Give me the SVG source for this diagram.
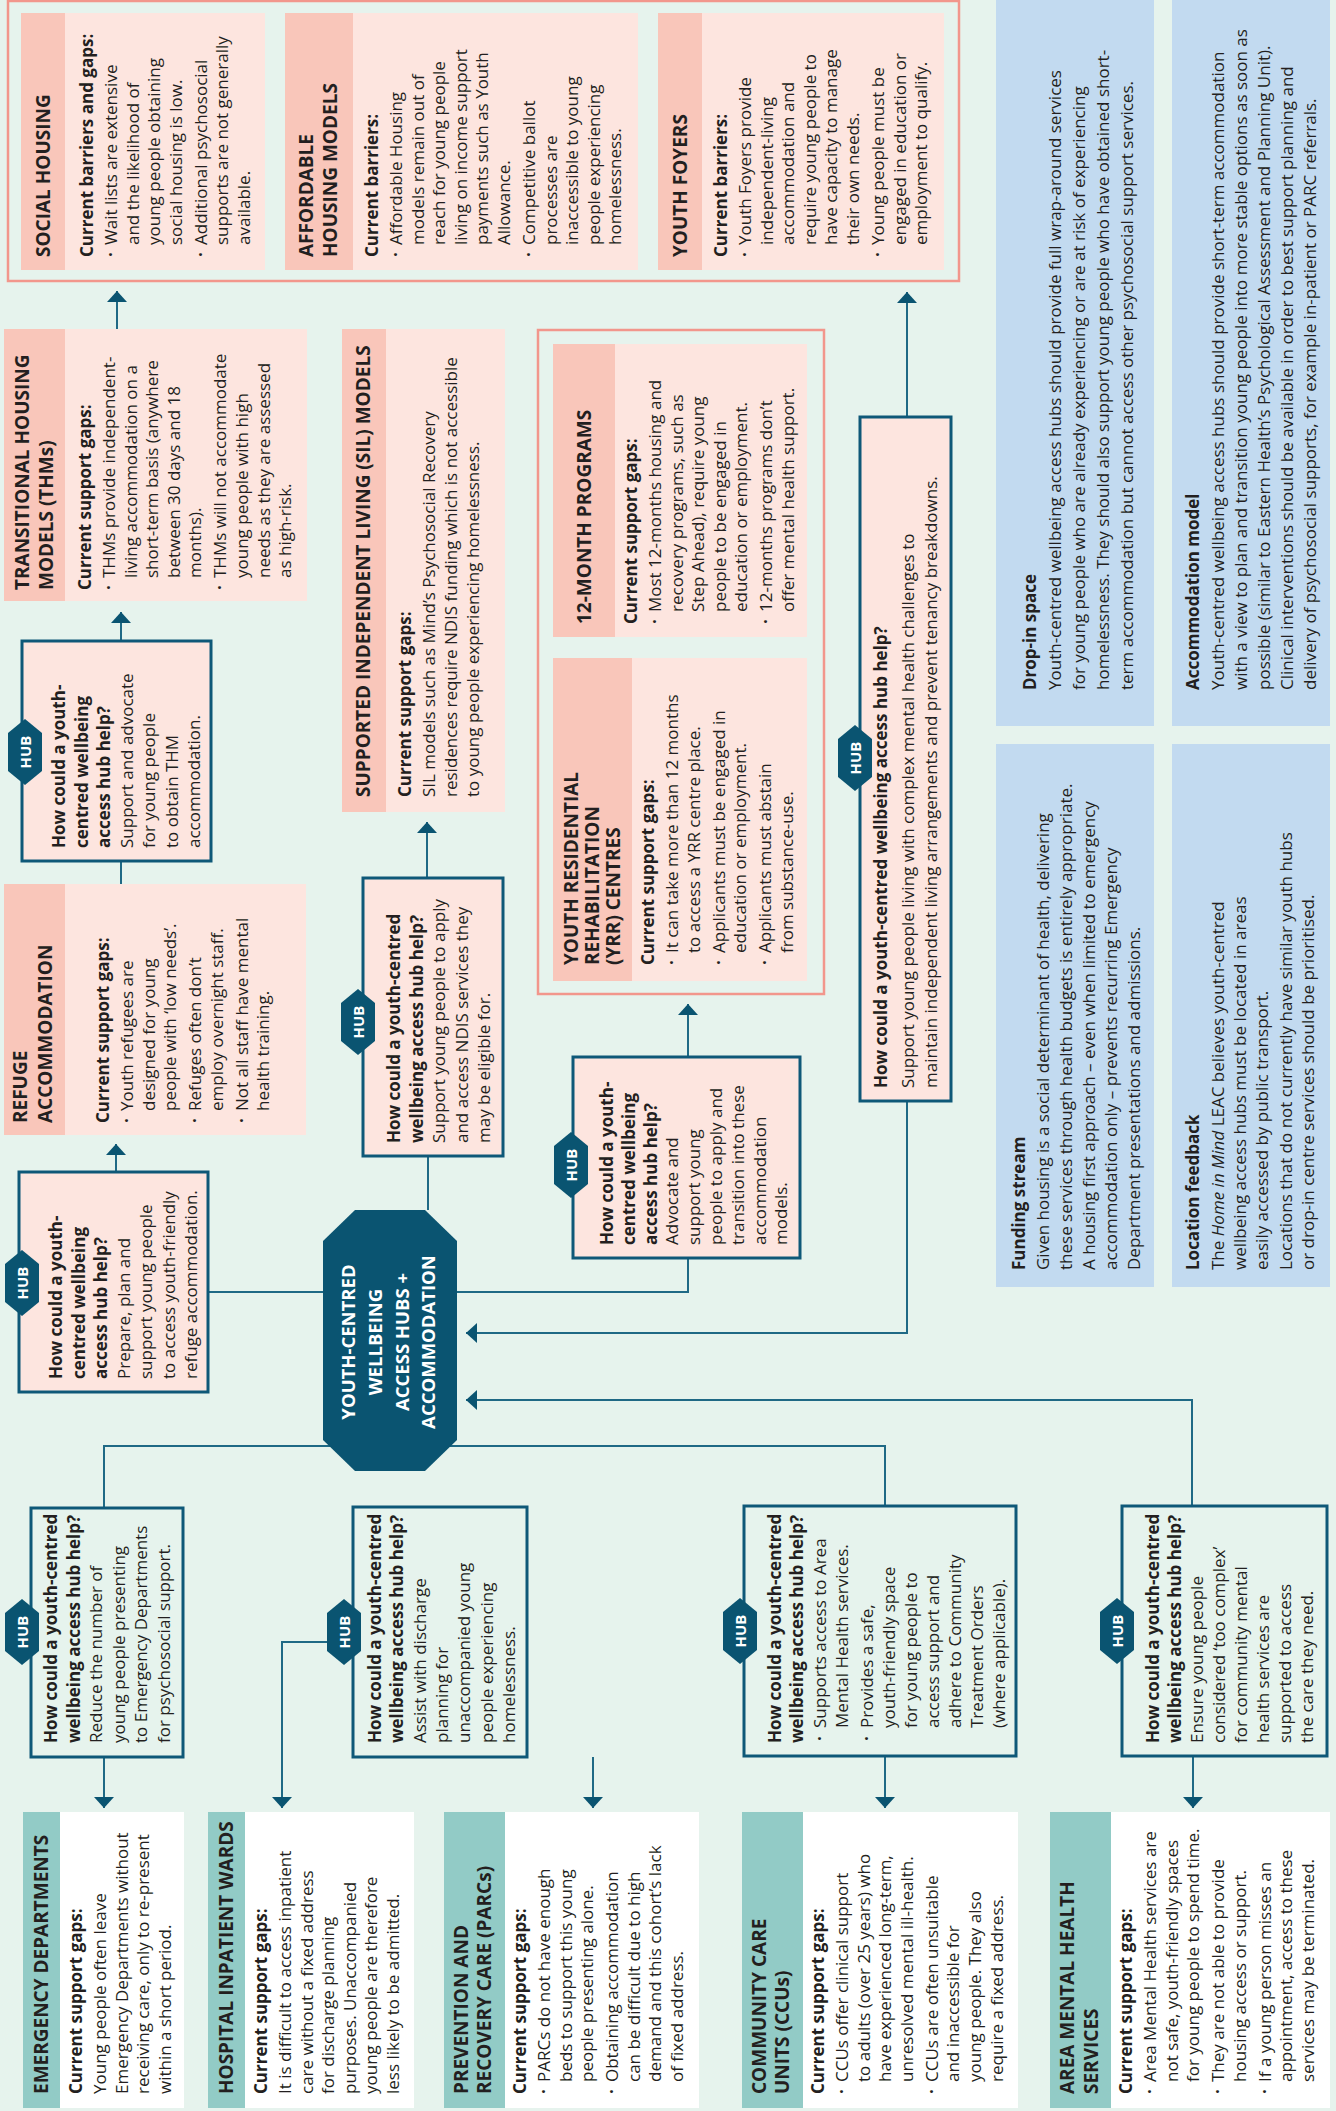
<svg xmlns="http://www.w3.org/2000/svg" width="1336" height="2111" viewBox="0 0 1336 2111">
<defs>
<style>
.bg{fill:#E6F3ED}
.frame{fill:none;stroke:#F2968C;stroke-width:2.5}
.card{fill:#FDE5DF}
.cardh{fill:#F9C6BA}
.hubp{fill:#FDE5DF;stroke:#0E5878;stroke-width:3}
.hubm{fill:#E6F3ED;stroke:#0E5878;stroke-width:3}
.hex{fill:#0A5471}
.oct{fill:#0A5471}
.blue{fill:#C2DAF0}
.wcard{fill:#FFFFFF}
.tcardh{fill:#92CBC6}
.ln{fill:none;stroke:#1F6985;stroke-width:2}
.t{font-family:'Open Sans','Noto Sans','DejaVu Sans',sans-serif;font-size:17px;fill:#231F20}
.b{font-weight:700}
.h{font-weight:700;font-size:19px}
.w{fill:#FFFFFF;font-weight:700;font-size:18.5px}
.hub{font-family:'Open Sans','Noto Sans','DejaVu Sans',sans-serif;font-size:15px;font-weight:700;fill:#FFFFFF;text-anchor:middle}
</style>
<marker id="arr" viewBox="0 0 11 20" refX="11" refY="10" markerWidth="11" markerHeight="20" markerUnits="userSpaceOnUse" orient="auto">
<path d="M0,0 L11,10 L0,20 Z" fill="#0A5471"/>
</marker>
</defs>

<rect class="bg" x="0" y="0" width="1336" height="2111"/>

<g id="connectors">
<path class="ln" d="M117,329 V291" marker-end="url(#arr)"/>
<path class="ln" d="M121,641 V612" marker-end="url(#arr)"/>
<path class="ln" d="M121,861 V884"/>
<path class="ln" d="M116,1172 V1144" marker-end="url(#arr)"/>
<path class="ln" d="M208,1292 H323"/>
<path class="ln" d="M427,878 V822" marker-end="url(#arr)"/>
<path class="ln" d="M428,1156 V1210"/>
<path class="ln" d="M688,1057 V1004" marker-end="url(#arr)"/>
<path class="ln" d="M457,1292 H688 V1258"/>
<path class="ln" d="M907,417 V292" marker-end="url(#arr)"/>
<path class="ln" d="M907,1101 V1333 H466" marker-end="url(#arr)"/>
<path class="ln" d="M1192,1506 V1400 H466" marker-end="url(#arr)"/>
<path class="ln" d="M104,1508 V1446 H885 V1506"/>
<path class="ln" d="M104,1757 V1808" marker-end="url(#arr)"/>
<path class="ln" d="M353,1642 H282 V1808" marker-end="url(#arr)"/>
<path class="ln" d="M593,1757 V1808" marker-end="url(#arr)"/>
<path class="ln" d="M885,1756 V1808" marker-end="url(#arr)"/>
<path class="ln" d="M1193,1756 V1808" marker-end="url(#arr)"/>
</g>

<g id="frame-housing">
<rect class="frame" x="8" y="1" width="951" height="280"/>
</g>
<g id="frame-programs">
<rect class="frame" x="538" y="330" width="286" height="664"/>
</g>

<g id="social-housing">
<rect class="card" x="21" y="13" width="244" height="257"/>
<rect class="cardh" x="21" y="13" width="44" height="257"/>
<g transform="matrix(0,-1,1,0,0,2111)">
<text class="t h" x="1854" y="50">SOCIAL HOUSING</text>
<text class="t"><tspan class="b" x="1854" y="93">Current barriers and gaps:</tspan><tspan class="b" x="1854" y="117">·</tspan><tspan x="1866" y="117">Wait lists are extensive</tspan><tspan x="1866" y="138.6">and the likelihood of</tspan><tspan x="1866" y="160.2">young people obtaining</tspan><tspan x="1866" y="181.8">social housing is low.</tspan><tspan class="b" x="1854" y="206.8">·</tspan><tspan x="1866" y="206.8">Additional psychosocial</tspan><tspan x="1866" y="228.4">supports are not generally</tspan><tspan x="1866" y="250">available.</tspan></text>
</g>
</g>

<g id="affordable-housing">
<rect class="card" x="285" y="13" width="353" height="257"/>
<rect class="cardh" x="285" y="13" width="68" height="257"/>
<g transform="matrix(0,-1,1,0,0,2111)">
<text class="t h"><tspan x="1854" y="313">AFFORDABLE</tspan><tspan x="1854" y="337">HOUSING MODELS</tspan></text>
<text class="t"><tspan class="b" x="1854" y="378">Current barriers:</tspan><tspan class="b" x="1854" y="402">·</tspan><tspan x="1866" y="402">Affordable Housing</tspan><tspan x="1866" y="423.6">models remain out of</tspan><tspan x="1866" y="445.2">reach for young people</tspan><tspan x="1866" y="466.8">living on income support</tspan><tspan x="1866" y="488.4">payments such as Youth</tspan><tspan x="1866" y="510">Allowance.</tspan><tspan class="b" x="1854" y="535">·</tspan><tspan x="1866" y="535">Competitive ballot</tspan><tspan x="1866" y="556.6">processes are</tspan><tspan x="1866" y="578.2">inaccessible to young</tspan><tspan x="1866" y="599.8">people experiencing</tspan><tspan x="1866" y="621.4">homelessness.</tspan></text>
</g>
</g>

<g id="youth-foyers">
<rect class="card" x="658" y="13" width="286" height="257"/>
<rect class="cardh" x="658" y="13" width="44" height="257"/>
<g transform="matrix(0,-1,1,0,0,2111)">
<text class="t h" x="1854" y="686.5">YOUTH FOYERS</text>
<text class="t"><tspan class="b" x="1854" y="727">Current barriers:</tspan><tspan class="b" x="1854" y="751">·</tspan><tspan x="1866" y="751">Youth Foyers provide</tspan><tspan x="1866" y="772.6">independent-living</tspan><tspan x="1866" y="794.2">accommodation and</tspan><tspan x="1866" y="815.8">require young people to</tspan><tspan x="1866" y="837.4">have capacity to manage</tspan><tspan x="1866" y="859">their own needs.</tspan><tspan class="b" x="1854" y="884">·</tspan><tspan x="1866" y="884">Young people must be</tspan><tspan x="1866" y="905.6">engaged in education or</tspan><tspan x="1866" y="927.2">employment to qualify.</tspan></text>
</g>
</g>

<g id="thm">
<rect class="card" x="4" y="329" width="303" height="272"/>
<rect class="cardh" x="4" y="329" width="61" height="272"/>
<g transform="matrix(0,-1,1,0,0,2111)">
<text class="t h"><tspan x="1521" y="29">TRANSITIONAL HOUSING</tspan><tspan x="1521" y="53">MODELS (THMs)</tspan></text>
<text class="t"><tspan class="b" x="1521" y="91">Current support gaps:</tspan><tspan class="b" x="1521" y="115">·</tspan><tspan x="1533" y="115">THMs provide independent-</tspan><tspan x="1533" y="136.6">living accommodation on a</tspan><tspan x="1533" y="158.2">short-term basis (anywhere</tspan><tspan x="1533" y="179.8">between 30 days and 18</tspan><tspan x="1533" y="201.4">months).</tspan><tspan class="b" x="1521" y="226.4">·</tspan><tspan x="1533" y="226.4">THMs will not accommodate</tspan><tspan x="1533" y="248">young people with high</tspan><tspan x="1533" y="269.6">needs as they are assessed</tspan><tspan x="1533" y="291.2">as high-risk.</tspan></text>
</g>
</g>

<g id="sil">
<rect class="card" x="342" y="329" width="163" height="483"/>
<rect class="cardh" x="342" y="329" width="44" height="483"/>
<g transform="matrix(0,-1,1,0,0,2111)">
<text class="t h" x="1314" y="370">SUPPORTED INDEPENDENT LIVING (SIL) MODELS</text>
<text class="t"><tspan class="b" x="1314" y="411">Current support gaps:</tspan><tspan x="1314" y="435">SIL models such as Mind’s Psychosocial Recovery</tspan><tspan x="1314" y="457">residences require NDIS funding which is not accessible</tspan><tspan x="1314" y="479">to young people experiencing homelessness.</tspan></text>
</g>
</g>

<g id="refuge">
<rect class="card" x="4" y="884" width="302" height="251"/>
<rect class="cardh" x="4" y="884" width="61" height="251"/>
<g transform="matrix(0,-1,1,0,0,2111)">
<text class="t h"><tspan x="988" y="27">REFUGE</tspan><tspan x="988" y="52">ACCOMMODATION</tspan></text>
<text class="t"><tspan class="b" x="988" y="109">Current support gaps:</tspan><tspan class="b" x="988" y="133">·</tspan><tspan x="1000" y="133">Youth refugees are</tspan><tspan x="1000" y="154.6">designed for young</tspan><tspan x="1000" y="176.2">people with ‘low needs’.</tspan><tspan class="b" x="988" y="201.2">·</tspan><tspan x="1000" y="201.2">Refuges often don’t</tspan><tspan x="1000" y="222.8">employ overnight staff.</tspan><tspan class="b" x="988" y="247.8">·</tspan><tspan x="1000" y="247.8">Not all staff have mental</tspan><tspan x="1000" y="269.4">health training.</tspan></text>
</g>
</g>

<g id="twelve-month">
<rect class="card" x="553" y="344" width="254" height="293"/>
<rect class="cardh" x="553" y="344" width="62" height="293"/>
<g transform="matrix(0,-1,1,0,0,2111)">
<text class="t h" x="1487" y="590.5">12-MONTH PROGRAMS</text>
<text class="t"><tspan class="b" x="1487" y="637">Current support gaps:</tspan><tspan class="b" x="1487" y="661">·</tspan><tspan x="1499" y="661">Most 12-months housing and</tspan><tspan x="1499" y="682.6">recovery programs, such as</tspan><tspan x="1499" y="704.2">Step Ahead), require young</tspan><tspan x="1499" y="725.8">people to be engaged in</tspan><tspan x="1499" y="747.4">education or employment.</tspan><tspan class="b" x="1487" y="772.4">·</tspan><tspan x="1499" y="772.4">12-months programs don’t</tspan><tspan x="1499" y="794">offer mental health support.</tspan></text>
</g>
</g>

<g id="yrr">
<rect class="card" x="553" y="658" width="254" height="323"/>
<rect class="cardh" x="553" y="658" width="79" height="323"/>
<g transform="matrix(0,-1,1,0,0,2111)">
<text class="t h"><tspan x="1146" y="578">YOUTH RESIDENTIAL</tspan><tspan x="1146" y="599">REHABILITATION</tspan><tspan x="1146" y="620">(YRR) CENTRES</tspan></text>
<text class="t"><tspan class="b" x="1146" y="654">Current support gaps:</tspan><tspan class="b" x="1146" y="678">·</tspan><tspan x="1158" y="678">It can take more than 12 months</tspan><tspan x="1158" y="699.6">to access a YRR centre place.</tspan><tspan class="b" x="1146" y="724.6">·</tspan><tspan x="1158" y="724.6">Applicants must be engaged in</tspan><tspan x="1158" y="746.2">education or employment.</tspan><tspan class="b" x="1146" y="771.2">·</tspan><tspan x="1158" y="771.2">Applicants must abstain</tspan><tspan x="1158" y="792.8">from substance-use.</tspan></text>
</g>
</g>

<g id="drop-in">
<rect class="blue" x="996" y="0" width="158" height="726"/>
<g transform="matrix(0,-1,1,0,0,2111)">
<text class="t"><tspan class="b" x="1421" y="1036">Drop-in space</tspan><tspan x="1421" y="1061">Youth-centred wellbeing access hubs should provide full wrap-around services</tspan><tspan x="1421" y="1085">for young people who are already experiencing or are at risk of experiencing</tspan><tspan x="1421" y="1109">homelessness. They should also support young people who have obtained short-</tspan><tspan x="1421" y="1133">term accommodation but cannot access other psychosocial support services.</tspan></text>
</g>
</g>

<g id="accommodation-model">
<rect class="blue" x="1172" y="0" width="158" height="726"/>
<g transform="matrix(0,-1,1,0,0,2111)">
<text class="t"><tspan class="b" x="1421" y="1199">Accommodation model</tspan><tspan x="1421" y="1224">Youth-centred wellbeing access hubs should provide short-term accommodation</tspan><tspan x="1421" y="1247">with a view to plan and transition young people into more stable options as soon as</tspan><tspan x="1421" y="1270">possible (similar to Eastern Health’s Psychological Assessment and Planning Unit).</tspan><tspan x="1421" y="1293">Clinical interventions should be available in order to best support planning and</tspan><tspan x="1421" y="1316">delivery of psychosocial supports, for example in-patient or PARC referrals.</tspan></text>
</g>
</g>

<g id="funding-stream">
<rect class="blue" x="996" y="744" width="158" height="543"/>
<g transform="matrix(0,-1,1,0,0,2111)">
<text class="t"><tspan class="b" x="841" y="1025">Funding stream</tspan><tspan x="841" y="1049">Given housing is a social determinant of health, delivering</tspan><tspan x="841" y="1071.5">these services through health budgets is entirely appropriate.</tspan><tspan x="841" y="1094.5">A housing first approach – even when limited to emergency</tspan><tspan x="841" y="1117">accommodation only – prevents recurring Emergency</tspan><tspan x="841" y="1139.5">Department presentations and admissions.</tspan></text>
</g>
</g>

<g id="location-feedback">
<rect class="blue" x="1172" y="744" width="158" height="543"/>
<g transform="matrix(0,-1,1,0,0,2111)">
<text class="t"><tspan class="b" x="841" y="1199">Location feedback</tspan><tspan x="841" y="1224">The <tspan font-style="italic">Home in Mind</tspan> LEAC believes youth-centred</tspan><tspan x="841" y="1246">wellbeing access hubs must be located in areas</tspan><tspan x="841" y="1268">easily accessed by public transport.</tspan><tspan x="841" y="1292">Locations that do not currently have similar youth hubs</tspan><tspan x="841" y="1314">or drop-in centre services should be prioritised.</tspan></text>
</g>
</g>

<g id="hub-thm">
<rect class="hubp" x="22" y="641" width="189" height="220"/>
<polygon class="hex" points="25,719 42,733 42,771 25,785 8,771 8,733"/>
<g transform="matrix(0,-1,1,0,0,2111)">
<text class="hub" x="1359" y="30.5">HUB</text>
<text class="t"><tspan class="b" x="1263" y="65">How could a youth-</tspan><tspan class="b" x="1263" y="87.5">centred wellbeing</tspan><tspan class="b" x="1263" y="110">access hub help?</tspan><tspan x="1263" y="132.5">Support and advocate</tspan><tspan x="1263" y="155">for young people</tspan><tspan x="1263" y="177.5">to obtain THM</tspan><tspan x="1263" y="200">accommodation.</tspan></text>
</g>
</g>

<g id="hub-refuge">
<rect class="hubp" x="19" y="1172" width="189" height="220"/>
<polygon class="hex" points="22,1250 39,1264 39,1302 22,1316 5,1302 5,1264"/>
<g transform="matrix(0,-1,1,0,0,2111)">
<text class="hub" x="828" y="27.5">HUB</text>
<text class="t"><tspan class="b" x="732" y="62">How could a youth-</tspan><tspan class="b" x="732" y="84.5">centred wellbeing</tspan><tspan class="b" x="732" y="107">access hub help?</tspan><tspan x="732" y="129.5">Prepare, plan and</tspan><tspan x="732" y="152">support young people</tspan><tspan x="732" y="174.5">to access youth-friendly</tspan><tspan x="732" y="197">refuge accommodation.</tspan></text>
</g>
</g>

<g id="hub-sil">
<rect class="hubp" x="363" y="878" width="140" height="278"/>
<polygon class="hex" points="358,989 375,1003 375,1041 358,1055 341,1041 341,1003"/>
<g transform="matrix(0,-1,1,0,0,2111)">
<text class="hub" x="1089" y="363.5">HUB</text>
<text class="t"><tspan class="b" x="968" y="400">How could a youth-centred</tspan><tspan class="b" x="968" y="422.5">wellbeing access hub help?</tspan><tspan x="968" y="445">Support young people to apply</tspan><tspan x="968" y="467.5">and access NDIS services they</tspan><tspan x="968" y="490">may be eligible for.</tspan></text>
</g>
</g>

<g id="hub-yrr">
<rect class="hubp" x="573" y="1057" width="227" height="201"/>
<polygon class="hex" points="571,1132 588,1146 588,1184 571,1198 554,1184 554,1146"/>
<g transform="matrix(0,-1,1,0,0,2111)">
<text class="hub" x="946" y="576.5">HUB</text>
<text class="t"><tspan class="b" x="866" y="613">How could a youth-</tspan><tspan class="b" x="866" y="634.8">centred wellbeing</tspan><tspan class="b" x="866" y="656.6">access hub help?</tspan><tspan x="866" y="678.4">Advocate and</tspan><tspan x="866" y="700.2">support young</tspan><tspan x="866" y="722">people to apply and</tspan><tspan x="866" y="743.8">transition into these</tspan><tspan x="866" y="765.6">accommodation</tspan><tspan x="866" y="787.4">models.</tspan></text>
</g>
</g>

<g id="hub-complex">
<rect class="hubp" x="860" y="417" width="91" height="684"/>
<polygon class="hex" points="855,725 872,739 872,777 855,791 838,777 838,739"/>
<g transform="matrix(0,-1,1,0,0,2111)">
<text class="hub" x="1353" y="860.5">HUB</text>
<text class="t"><tspan class="b" x="1023" y="887">How could a youth-centred wellbeing access hub help?</tspan><tspan x="1023" y="914">Support young people living with complex mental health challenges to</tspan><tspan x="1023" y="937">maintain independent living arrangements and prevent tenancy breakdowns.</tspan></text>
</g>
</g>

<g id="centre">
<polygon class="oct" points="355,1210 425,1210 457,1241 457,1440 425,1471 355,1471 323,1440 323,1241"/>
<g transform="matrix(0,-1,1,0,0,2111)">
<text class="t w" text-anchor="middle"><tspan x="769" y="355">YOUTH-CENTRED</tspan><tspan x="769" y="382">WELLBEING</tspan><tspan x="769" y="409">ACCESS HUBS +</tspan><tspan x="769" y="435">ACCOMMODATION</tspan></text>
</g>
</g>

<g id="hub-ed">
<rect class="hubm" x="31" y="1508" width="152" height="249"/>
<polygon class="hex" points="22,1599 39,1613 39,1651 22,1665 5,1651 5,1613"/>
<g transform="matrix(0,-1,1,0,0,2111)">
<text class="hub" x="479" y="27.5">HUB</text>
<text class="t"><tspan class="b" x="368" y="57">How could a youth-centred</tspan><tspan class="b" x="368" y="79.5">wellbeing access hub help?</tspan><tspan x="368" y="102">Reduce the number of</tspan><tspan x="368" y="124.5">young people presenting</tspan><tspan x="368" y="147">to Emergency Departments</tspan><tspan x="368" y="169.5">for psychosocial support.</tspan></text>
</g>
</g>

<g id="hub-hospital">
<rect class="hubm" x="353" y="1507" width="174" height="250"/>
<polygon class="hex" points="344,1599 361,1613 361,1651 344,1665 327,1651 327,1613"/>
<g transform="matrix(0,-1,1,0,0,2111)">
<text class="hub" x="479" y="349.5">HUB</text>
<text class="t"><tspan class="b" x="368" y="381">How could a youth-centred</tspan><tspan class="b" x="368" y="403.3">wellbeing access hub help?</tspan><tspan x="368" y="425.6">Assist with discharge</tspan><tspan x="368" y="447.9">planning for</tspan><tspan x="368" y="470.2">unaccompanied young</tspan><tspan x="368" y="492.5">people experiencing</tspan><tspan x="368" y="514.8">homelessness.</tspan></text>
</g>
</g>

<g id="hub-ccu">
<rect class="hubm" x="744" y="1506" width="272" height="250"/>
<polygon class="hex" points="740,1598 757,1612 757,1650 740,1664 723,1650 723,1612"/>
<g transform="matrix(0,-1,1,0,0,2111)">
<text class="hub" x="480" y="745.5">HUB</text>
<text class="t"><tspan class="b" x="368" y="781">How could a youth-centred</tspan><tspan class="b" x="368" y="803">wellbeing access hub help?</tspan><tspan class="b" x="370" y="826">·</tspan><tspan x="383" y="826">Supports access to Area</tspan><tspan x="383" y="848">Mental Health services.</tspan><tspan class="b" x="370" y="873">·</tspan><tspan x="383" y="873">Provides a safe,</tspan><tspan x="383" y="895">youth-friendly space</tspan><tspan x="383" y="917">for young people to</tspan><tspan x="383" y="939">access support and</tspan><tspan x="383" y="961">adhere to Community</tspan><tspan x="383" y="983">Treatment Orders</tspan><tspan x="383" y="1005">(where applicable).</tspan></text>
</g>
</g>

<g id="hub-amhs">
<rect class="hubm" x="1122" y="1506" width="205" height="250"/>
<polygon class="hex" points="1117,1598 1134,1612 1134,1650 1117,1664 1100,1650 1100,1612"/>
<g transform="matrix(0,-1,1,0,0,2111)">
<text class="hub" x="480" y="1122.5">HUB</text>
<text class="t"><tspan class="b" x="368" y="1159">How could a youth-centred</tspan><tspan class="b" x="368" y="1181">wellbeing access hub help?</tspan><tspan x="368" y="1203">Ensure young people</tspan><tspan x="368" y="1225">considered ‘too complex’</tspan><tspan x="368" y="1247">for community mental</tspan><tspan x="368" y="1269">health services are</tspan><tspan x="368" y="1291">supported to access</tspan><tspan x="368" y="1313">the care they need.</tspan></text>
</g>
</g>

<g id="emergency-departments">
<rect class="wcard" x="23" y="1812" width="161" height="296"/>
<rect class="tcardh" x="23" y="1812" width="37" height="296"/>
<g transform="matrix(0,-1,1,0,0,2111)">
<text class="t h" x="17" y="48">EMERGENCY DEPARTMENTS</text>
<text class="t"><tspan class="b" x="17" y="82">Current support gaps:</tspan><tspan x="17" y="106">Young people often leave</tspan><tspan x="17" y="127.6">Emergency Departments without</tspan><tspan x="17" y="149.2">receiving care, only to re-present</tspan><tspan x="17" y="170.8">within a short period.</tspan></text>
</g>
</g>

<g id="hospital-wards">
<rect class="wcard" x="208" y="1812" width="206" height="296"/>
<rect class="tcardh" x="208" y="1812" width="37" height="296"/>
<g transform="matrix(0,-1,1,0,0,2111)">
<text class="t h" x="17" y="233">HOSPITAL INPATIENT WARDS</text>
<text class="t"><tspan class="b" x="17" y="267">Current support gaps:</tspan><tspan x="17" y="291">It is difficult to access inpatient</tspan><tspan x="17" y="312.6">care without a fixed address</tspan><tspan x="17" y="334.2">for discharge planning</tspan><tspan x="17" y="355.8">purposes. Unaccompanied</tspan><tspan x="17" y="377.4">young people are therefore</tspan><tspan x="17" y="399">less likely to be admitted.</tspan></text>
</g>
</g>

<g id="parcs">
<rect class="wcard" x="444" y="1812" width="255" height="296"/>
<rect class="tcardh" x="444" y="1812" width="61" height="296"/>
<g transform="matrix(0,-1,1,0,0,2111)">
<text class="t h"><tspan x="17" y="468">PREVENTION AND</tspan><tspan x="17" y="491">RECOVERY CARE (PARCs)</tspan></text>
<text class="t"><tspan class="b" x="17" y="526">Current support gaps:</tspan><tspan class="b" x="17" y="550">·</tspan><tspan x="29" y="550">PARCs do not have enough</tspan><tspan x="29" y="571.6">beds to support this young</tspan><tspan x="29" y="593.2">people presenting alone.</tspan><tspan class="b" x="17" y="618.2">·</tspan><tspan x="29" y="618.2">Obtaining accommodation</tspan><tspan x="29" y="639.8">can be difficult due to high</tspan><tspan x="29" y="661.4">demand and this cohort’s lack</tspan><tspan x="29" y="683">of fixed address.</tspan></text>
</g>
</g>

<g id="ccu">
<rect class="wcard" x="742" y="1812" width="276" height="296"/>
<rect class="tcardh" x="742" y="1812" width="61" height="296"/>
<g transform="matrix(0,-1,1,0,0,2111)">
<text class="t h"><tspan x="17" y="766">COMMUNITY CARE</tspan><tspan x="17" y="789">UNITS (CCUs)</tspan></text>
<text class="t"><tspan class="b" x="17" y="824">Current support gaps:</tspan><tspan class="b" x="17" y="848">·</tspan><tspan x="29" y="848">CCUs offer clinical support</tspan><tspan x="29" y="869.6">to adults (over 25 years) who</tspan><tspan x="29" y="891.2">have experienced long-term,</tspan><tspan x="29" y="912.8">unresolved mental ill-health.</tspan><tspan class="b" x="17" y="937.8">·</tspan><tspan x="29" y="937.8">CCUs are often unsuitable</tspan><tspan x="29" y="959.4">and inaccessible for</tspan><tspan x="29" y="981">young people. They also</tspan><tspan x="29" y="1002.6">require a fixed address.</tspan></text>
</g>
</g>

<g id="amhs">
<rect class="wcard" x="1050" y="1812" width="280" height="296"/>
<rect class="tcardh" x="1050" y="1812" width="61" height="296"/>
<g transform="matrix(0,-1,1,0,0,2111)">
<text class="t h"><tspan x="17" y="1074">AREA MENTAL HEALTH</tspan><tspan x="17" y="1098">SERVICES</tspan></text>
<text class="t"><tspan class="b" x="17" y="1132">Current support gaps:</tspan><tspan class="b" x="17" y="1156">·</tspan><tspan x="29" y="1156">Area Mental Health services are</tspan><tspan x="29" y="1177.6">not safe, youth-friendly spaces</tspan><tspan x="29" y="1199.2">for young people to spend time.</tspan><tspan class="b" x="17" y="1224.2">·</tspan><tspan x="29" y="1224.2">They are not able to provide</tspan><tspan x="29" y="1245.8">housing access or support.</tspan><tspan class="b" x="17" y="1270.8">·</tspan><tspan x="29" y="1270.8">If a young person misses an</tspan><tspan x="29" y="1292.4">appointment, access to these</tspan><tspan x="29" y="1314">services may be terminated.</tspan></text>
</g>
</g>
</svg>
